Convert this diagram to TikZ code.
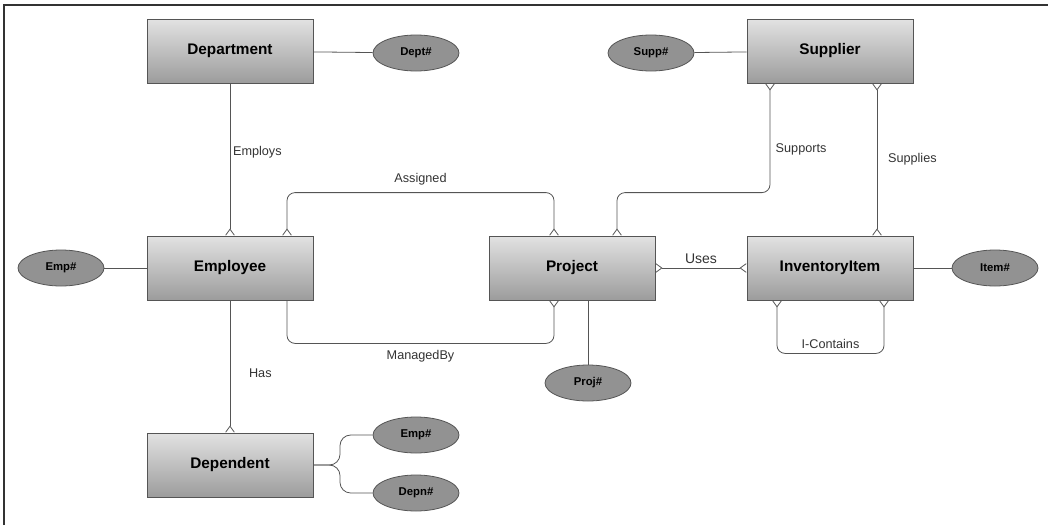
\documentclass[tikz,border=0pt]{standalone}
\usepackage{fontspec}
\setmainfont{Liberation Sans}
\usetikzlibrary{shapes.geometric,arrows.meta,calc}

\definecolor{boxtop}{HTML}{E2E2E2}
\definecolor{boxbot}{HTML}{9C9C9C}
\definecolor{attrfill}{HTML}{929292}
\definecolor{edgegray}{HTML}{555555}
\definecolor{labelgray}{HTML}{333333}

\tikzset{
  entity/.style={draw=edgegray, line width=0.6pt, top color=boxtop, bottom color=boxbot,
    minimum width=124.5pt, minimum height=48pt, inner sep=0pt,
    font=\fontsize{11.5}{13}\selectfont\bfseries},
  attr/.style={ellipse, draw=edgegray, line width=0.6pt, fill=attrfill,
    minimum width=64.5pt, minimum height=27pt, inner sep=0pt,
    font=\fontsize{8.5}{10}\selectfont\bfseries},
  rel/.style={text=labelgray, font=\fontsize{9.5}{11}\selectfont, inner sep=2pt},
  link/.style={draw=edgegray, line width=0.6pt},
  crow/.tip={Straight Barb[reversed, length=4.5pt, width=6.5pt, line width=0.6pt]},
  tomany/.style={link, -crow},
  manymany/.style={link, crow-crow}
}

\begin{document}
\begin{tikzpicture}[x=0.75pt, y=-0.75pt]

\useasboundingbox (0,0) rectangle (1048,525);
\draw [line width=2pt, black!80] (4,525) -- (4,5) -- (1048,5);

\node [entity] (dept) at (230,51)  {Department};
\node [entity] (supp) at (830,51)  {Supplier};
\node [entity] (emp)  at (230,268) {Employee};
\node [entity] (proj) at (572,268) {Project};
\node [entity] (inv)  at (830,268) {InventoryItem};
\node [entity] (dep)  at (230,465) {Dependent};

\node [attr] (deptno) at (416,53)  {Dept\#};
\node [attr] (suppno) at (651,53)  {Supp\#};
\node [attr] (empno)  at (61,268)  {Emp\#};
\node [attr] (itemno) at (995,268) {Item\#};
\node [attr] (projno) at (588,383) {Proj\#};
\node [attr] (depemp) at (416,435) {Emp\#};
\node [attr] (depno)  at (416,493) {Depn\#};

\coordinate (fork) at (340,465);

\begin{scope}[link]
\draw (dept) -- (deptno);
\draw (suppno) -- (supp);
\draw (empno) -- (emp);
\draw (inv) -- (itemno);
\draw ($(proj.south)+(16,0)$) -- (projno);
\draw [rounded corners=8pt] (dep.east) -- (fork) |- (depemp);
\draw [rounded corners=8pt] (dep.east) -- (fork) |- (depno);
\end{scope}

\draw [tomany] (dept) -- (emp) node [rel, pos=0.45, right] {Employs};
\draw [tomany] (emp) -- (dep) node [rel, pos=0.55, right=12pt] {Has};

\draw [manymany, rounded corners=6pt] ($(emp.north)+(57,0)$) |- ($(proj.north)+(-18,-43)$)
  node [rel, pos=0.75, above=3pt] {Assigned} -- ($(proj.north)+(-18,0)$);
\draw [tomany, rounded corners=6pt] ($(emp.south)+(57,0)$) |- ($(proj.south)+(-18,43)$)
  node [rel, pos=0.75, below=3pt] {ManagedBy} -- ($(proj.south)+(-18,0)$);

\draw [manymany, rounded corners=6pt] ($(supp.south)+(-60,0)$) |- ($(proj.north)+(45,-43)$)
  node [rel, pos=0.3, right=2pt] {Supports} -- ($(proj.north)+(45,0)$);
\draw [manymany] ($(supp.south)+(47,0)$) -- ($(inv.north)+(47,0)$)
  node [rel, midway, right=6pt] {Supplies};
\draw [manymany] (proj) -- (inv) node [rel, midway, above=1pt, font=\fontsize{10.5}{12}\selectfont] {Uses};

\draw [manymany, rounded corners=6pt] ($(inv.south)+(-53,0)$) -- ++(0,53)
  -- ++(107,0) node [rel, midway, above=1pt] {I-Contains} -- ($(inv.south)+(54,0)$);

\end{tikzpicture}
\end{document}
